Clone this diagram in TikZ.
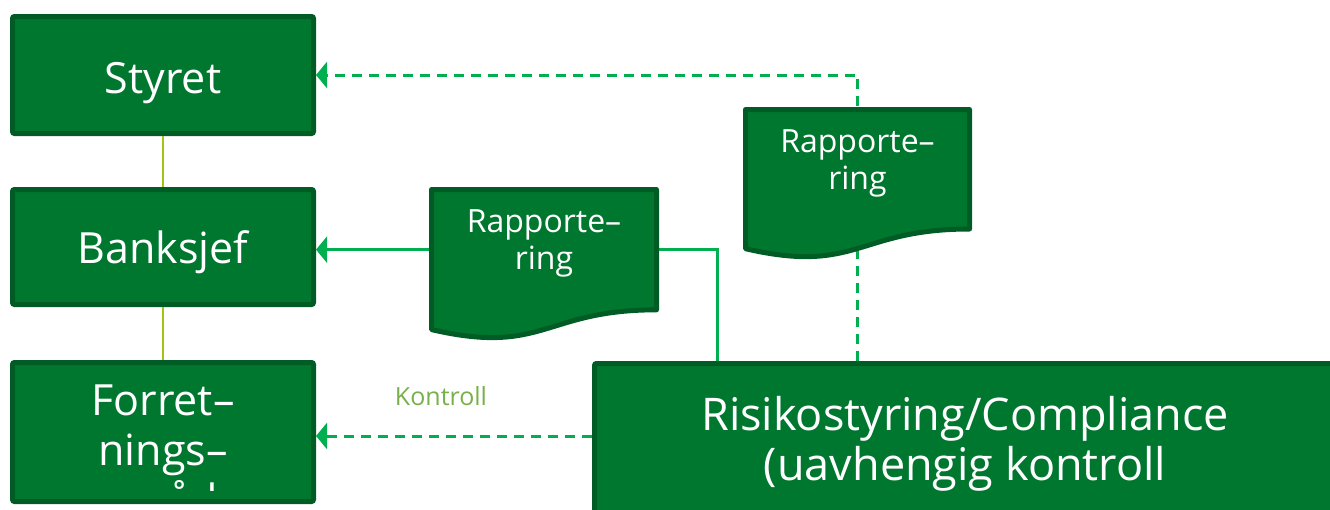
\documentclass[tikz,border=0pt]{standalone}
\usepackage{fontspec}
\setmainfont{Open Sans}
\usetikzlibrary{arrows.meta,calc}
\definecolor{boxfill}{HTML}{00772F}
\definecolor{boxline}{HTML}{005C24}
\definecolor{arrowgreen}{HTML}{00B050}
\definecolor{linkgreen}{HTML}{A2C31A}
\definecolor{labelgreen}{HTML}{77B04A}
\begin{document}
\begin{tikzpicture}[x=1pt,y=1pt,
  orgbox/.style={draw=boxline, fill=boxfill, line width=5pt, rounded corners=2pt,
    inner sep=0pt, outer sep=2.5pt, text=white, font=\fontsize{43}{50}\selectfont,
    minimum width=301pt},
  docarea/.style={inner sep=0pt, outer sep=0pt},
  docshape/.style={draw=boxline, fill=boxfill, line width=5pt, line join=round},
  doctext/.style={text=white, font=\fontsize{32}{37}\selectfont, align=center,
    inner sep=0pt, anchor=north},
  bigtext/.style={text=white, font=\fontsize{43}{50}\selectfont, align=center,
    inner sep=0pt, anchor=north},
  risktext/.style={text=white, font=\fontsize{45}{50}\selectfont, align=center,
    inner sep=0pt, anchor=north},
  linkline/.style={draw=linkgreen, line width=2pt},
  solidline/.style={draw=arrowgreen, line width=3pt},
  solidarrow/.style={solidline, -{Triangle[length=11pt,width=26pt]}},
  dasharrow/.style={draw=arrowgreen, line width=3pt, dash pattern=on 10pt off 7pt,
    -{Triangle[length=11pt,width=26pt]}},
  kontrolltext/.style={text=labelgreen, font=\fontsize{25}{30}\selectfont,
    inner sep=0pt, anchor=base}
]
\useasboundingbox (0,0) rectangle (1330,-509);

% boxes
\node[orgbox, minimum height=117pt, text height=36pt, text depth=0pt] (s) at (163,-75) {Styret};
\node[orgbox, minimum height=115pt, text height=32pt, text depth=0pt] (b) at (163,-247) {Banksjef};
\node[orgbox, minimum height=139pt] (f) at (163,-432) {};
\node[orgbox, minimum width=745.5pt, minimum height=156.5pt] (r) at (967.25,-441.75) {};

% areas of the document shapes
\node[docarea, minimum width=225pt, minimum height=120.3pt] (d1) at (544,-249.65) {};
\node[docarea, minimum width=224pt, minimum height=119.5pt] (d2) at (857.5,-169.25) {};

% helper coordinates
\coordinate (j1) at ($(r.north west)+(125,0)$);
\coordinate (k) at ($(r.west)+(0,5.75)$);

% connectors
\draw[linkline] (s) -- (b);
\draw[linkline] (b) -- (f);
\draw[solidarrow] (d1.west) -- (d1.west -| b.east);
\draw[solidline] (d1.east) -| (j1);
\draw[dasharrow] (d2.south |- r.north) |- (s.east);
\draw[dasharrow] (k) -- (k -| f.east);
\node[kontrolltext] (kl) at (441,-405) {Kontroll};

% document shapes
\path[docshape] (d1.north west) -- (d1.north east) -- (d1.south east)
  .. controls (d1.south) and ($(d1.south)+(0,-45.8)$) .. ($(d1.south west)+(0,-19.8)$) -- cycle;
\path[docshape] (d2.north west) -- (d2.north east) -- (d2.south east)
  .. controls (d2.south) and ($(d2.south)+(0,-45.5)$) .. ($(d2.south west)+(0,-19.7)$) -- cycle;
\node[doctext] (t1) at ($(d1.north)+(0,-19.5)$) {Rapporte–\\ring};
\node[doctext] (t2) at ($(d2.north)+(0,-19.5)$) {Rapporte–\\ring};

% texts of the big boxes
\begin{scope}
  \clip (14,-364) rectangle (312,-490);
  \node[bigtext] (ft) at ($(f.north)+(0,-24.3)$) {Forret–\\nings–\\område};
\end{scope}
\node[risktext] (rt) at ($(r.north west)+(373,-34.8)$) {Risikostyring/Compliance\\(uavhengig kontroll};
\end{tikzpicture}
\end{document}
